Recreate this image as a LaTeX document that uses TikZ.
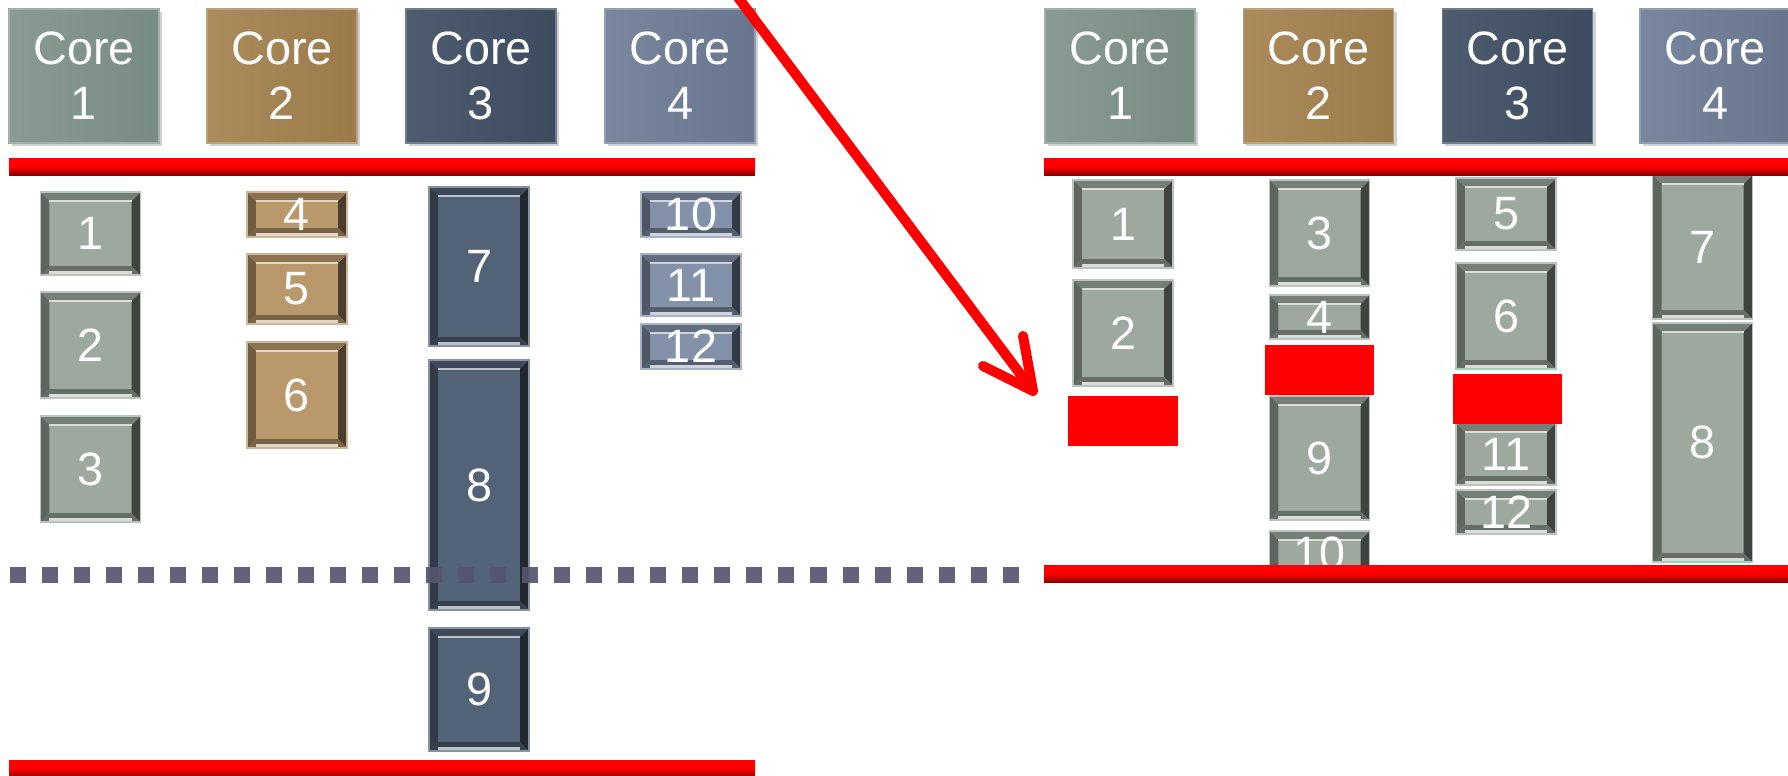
\documentclass[tikz,border=0pt]{standalone}
\usepackage{fontspec}
\usepackage{tikz}
\usetikzlibrary{arrows.meta}
\usetikzlibrary{shadows}
\newfontfamily\labfont{Liberation Sans}

\definecolor{sageCore}{HTML}{80948A}
\definecolor{brownCore}{HTML}{A5824F}
\definecolor{slateCore}{HTML}{405064}
\definecolor{steelCore}{HTML}{6E7E97}
\definecolor{sageTask}{HTML}{9DA99F}
\definecolor{brownTask}{HTML}{B9986C}
\definecolor{slateTask}{HTML}{536377}
\definecolor{steelTask}{HTML}{8391A9}
\definecolor{barColor}{HTML}{555571}

\begin{document}
\begin{tikzpicture}[x=0.01cm, y=-0.01cm,
    core/.style={minimum width=1.5cm, minimum height=1.34cm, inner sep=0pt, align=center,
      text=white, font=\labfont\fontsize{13.3}{15.6}\selectfont,
      left color=#1!93!white, right color=#1!94!black, draw=#1!75!white, line width=0.5pt,
      drop shadow={shadow xshift=0.03cm, shadow yshift=-0.03cm, opacity=0.18, fill=black}},
    task/.style={minimum width=1cm, inner sep=0pt, text=white,
      font=\labfont\fontsize{13.3}{15.6}\selectfont, fill=#1, draw=#1!70!white, line width=0.5pt,
      path picture={
        \path (path picture bounding box.south west) coordinate (sw)
              (path picture bounding box.north east) coordinate (ne)
              (path picture bounding box.north west) coordinate (nw)
              (path picture bounding box.south east) coordinate (se);
        \fill[#1!60!black] (nw) -- (sw) -- ([shift={(\bw,\bw)}]sw) -- ([shift={(\bw,-\bw)}]nw) -- cycle;
        \fill[#1!40!black] (ne) -- (se) -- ([shift={(-\bw,\bw)}]se) -- ([shift={(-\bw,-\bw)}]ne) -- cycle;
        \fill[#1!75!black] (nw) -- (ne) -- ([shift={(-\bw,-\bw)}]ne) -- ([shift={(\bw,-\bw)}]nw) -- cycle;
        \fill[#1!65!black] (sw) -- (se) -- ([shift={(-\bw,\bw)}]se) -- ([shift={(\bw,\bw)}]sw) -- cycle;
        \draw[#1!40!white, line width=0.8pt] ([shift={(\bw,-\bw)}]nw) -- ([shift={(-\bw,-\bw)}]ne);
        \draw[#1!40!white, line width=0.8pt] ([shift={(\bw,0.025cm)}]sw) -- ([shift={(-\bw,0.025cm)}]se);
      }},
    ht/.style={minimum height=#1mm},
    gap/.style={fill=red, minimum width=1.09cm, minimum height=0.5cm, inner sep=0pt},
    rail/.style={top color=red, bottom color=red!55!black, middle color=red},
    move/.style={red, line width=0.1cm, line cap=round, -{Straight Barb[length=5mm, width=5mm, round]}},
  ]
  \def\bw{0.09cm}
  \useasboundingbox (0,0) rectangle (1788,775);
  \clip (0,0) rectangle (1788,775);

  % before: one core per column
  \node[core=sageCore]  (lcore1) at (84,76)  {Core\\1};
  \node[core=brownCore] (lcore2) at (282,76) {Core\\2};
  \node[core=slateCore] (lcore3) at (481,76) {Core\\3};
  \node[core=steelCore] (lcore4) at (680,76) {Core\\4};

  \node[task=sageTask, ht=8.3]  (l1) at (90.5,233.5) {1};
  \node[task=sageTask, ht=10.6] (l2) at (90.5,345)   {2};
  \node[task=sageTask, ht=10.6] (l3) at (90.5,469)   {3};
  \node[task=brownTask, ht=4.5]  (l4) at (297,214.5) {4};
  \node[task=brownTask, ht=7.0]  (l5) at (297,289)   {5};
  \node[task=brownTask, ht=10.6] (l6) at (297,395)   {6};
  \node[task=slateTask, ht=15.9] (l7) at (479,266.5) {7};
  \node[task=slateTask, ht=25.0] (l8) at (479,485)   {8};
  \node[task=slateTask, ht=12.3] (l9) at (479,689.5) {9};
  \node[task=steelTask, ht=4.5] (l10) at (691,214.5) {10};
  \node[task=steelTask, ht=6.2] (l11) at (691,285)   {11};
  \node[task=steelTask, ht=4.5] (l12) at (691,346.5) {12};

  \shade[rail] (9,158) rectangle (755,175);
  \shade[rail] (9,760) rectangle (755,777);

  % deadline
  \coordinate (dl west) at (10,575);
  \coordinate (dl east) at (1034,575);
  \draw[barColor, line width=0.16cm, dash pattern=on 0.16cm off 0.16cm, opacity=0.92] (dl west) -- (dl east);

  % after: rebalanced
  \node[core=sageCore]  (rcore1) at (1120,76)   {Core\\1};
  \node[core=brownCore] (rcore2) at (1318.5,76) {Core\\2};
  \node[core=slateCore] (rcore3) at (1517.5,76) {Core\\3};
  \node[core=steelCore] (rcore4) at (1715,76)   {Core\\4};

  \node[task=sageTask, ht=8.8]  (r1) at (1123,224) {1};
  \node[task=sageTask, ht=10.6] (r2) at (1123,333) {2};
  \node[task=sageTask, ht=10.6] (r3) at (1319.5,233) {3};
  \node[task=sageTask, ht=4.4]  (r4) at (1319.5,317) {4};
  \node[task=sageTask, ht=12.4] (r9) at (1319.5,458) {9};
  \node[task=sageTask, ht=4.5] (r10) at (1319.5,553.5) {10};
  \node[task=sageTask, ht=7.2]  (r5) at (1506,214) {5};
  \node[task=sageTask, ht=10.6] (r6) at (1506,316) {6};
  \node[task=sageTask, ht=6.2] (r11) at (1506,454) {11};
  \node[task=sageTask, ht=4.4] (r12) at (1506,512) {12};
  \node[task=sageTask, ht=14.4] (r7) at (1702.5,247) {7};
  \node[task=sageTask, ht=23.9] (r8) at (1702.5,442.5) {8};

  \node[gap] (g1) at (1123,421) {};
  \node[gap] (g2) at (1319.5,370) {};
  \node[gap] (g3) at (1507.5,399) {};

  \shade[rail] (1044,158) rectangle (1800,175);
  \shade[rail] (1044,565) rectangle (1800,582);

  \coordinate (mv from) at (725,-20);
  \coordinate (mv to) at (1036,395);
  \draw[move] (mv from) -- (mv to);
\end{tikzpicture}
\end{document}
